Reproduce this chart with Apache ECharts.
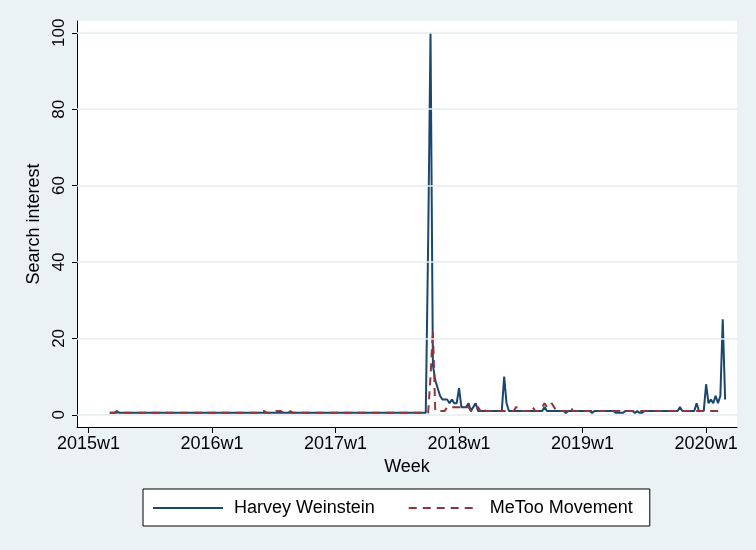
<!DOCTYPE html>
<html>
<head>
<meta charset="utf-8">
<script src="https://cdn.jsdelivr.net/npm/echarts@6/dist/echarts.min.js"></script>
<style>
  html, body { margin: 0; padding: 0; background: #eaf2f3; }
  #chart { width: 756px; height: 550px; }
</style>
</head>
<body>
<div id="chart"></div>
<script>
// weekly Google Trends series, first point is 2015w10 (week index 9, 2015w1 = 0)
const firstWeek = 9;

const harvey2015 = [
  .5, .5, .5, 1, .5, .5, .5, .5, .5, .5, .5, .5, .5,
  .5, .5, .5, .5, .5, .5, .5, .5, .5, .5, .5, .5, .5, .5, .5,
  .5, .5, .5, .5, .5, .5, .5, .5, .5, .5, .5, .5, .5, .5, .5
];
const harvey2016 = [
  .5, .5, .5, .5, .5, .5, .5, .5, .5, .5, .5, .5, .5,
  .5, .5, .5, .5, .5, .5, .5, .5, .5, .5, .5, .5, .5,
  .5, .5, .5, .5, .5, .5, .5, .5, .5, .5, .5, .5, .5,
  .5, .5, .5, .5, .5, .5, .5, .5, .5, .5, .5, .5, .5
];
const harvey2017 = [
  .5, .5, .5, .5, .5, .5, .5, .5, .5, .5, .5, .5, .5,
  .5, .5, .5, .5, .5, .5, .5, .5, .5, .5, .5, .5, .5,
  .5, .5, .5, .5, .5, .5, .5, .5, .5, .5, .5, .5, .5,
  45, 100, 13, 9, 7, 5, 4, 4, 4, 3, 4, 3, 3
];
const harvey2018 = [
  7, 2, 2, 2, 3, 1, 2, 3, 1, 1, 1, 1, 1,
  1, 1, 1, 1, 1, 1, 10, 3, 1, 1, 1, 1, 1,
  1, 1, 1, 1, 1, 1, 1, 1, 1, 1, 2, 1, 1,
  1, 1, 1, 1, 1, 1, .5, 1, 1, 1, 1, 1, 1
];
const harvey2019 = [
  1, 1, 1, 1, .5, 1, 1, 1, 1, 1, 1, 1, 1,
  1, .5, .5, .5, .5, 1, 1, 1, 1, .5, 1, .5, .5,
  1, 1, 1, 1, 1, 1, 1, 1, 1, 1, 1, 1, 1,
  1, 1, 2, 1, 1, 1, 1, 1, 1, 3, 1, 1, 1
];
const harvey2020 = [8, 3, 4, 3, 5, 3, 5, 25, 4];

const metoo2015 = [
  .5, .5, .5, .5, .5, .5, .5, .5, .5, .5, .5, .5, .5,
  .5, .5, .5, .5, .5, .5, .5, .5, .5, .5, .5, .5, .5, .5, .5,
  .5, .5, .5, .5, .5, .5, .5, .5, .5, .5, .5, .5, .5, .5, .5
];
const metoo2016 = [
  .5, .5, .5, .5, .5, .5, .5, .5, .5, .5, .5, .5, .5,
  .5, .5, .5, .5, .5, .5, .5, 1, 1, 1, .5, .5, .5,
  .5, 1, 1, 1, .5, .5, .5, 1, .5, .5, .5, .5, .5,
  .5, .5, .5, .5, .5, .5, .5, .5, .5, .5, .5, .5, .5
];
const metoo2017 = [
  .5, .5, .5, .5, .5, .5, .5, .5, .5, .5, .5, .5, .5,
  .5, .5, .5, .5, .5, .5, .5, .5, .5, .5, .5, .5, .5,
  .5, .5, .5, .5, .5, .5, .5, .5, .5, .5, .5, .5, .5,
  .5, 10, 22, 1, 1, 1, 1, 1, 2, 2, 2, 2, 2
];
const metoo2018 = [
  2, 2, 2, 2, 2, 1, 1, 2, 2, 1, 2, 1, 1,
  1, 1, 1, 1, 1, 1, 1, 1, 1, 1, 1, 2, 2,
  1, 1, 1, 1, 1, 2, 1, 1, 1, 2, 3, 2, 2,
  3, 2, 1, 1, 1, 1, 1, 1, 2, 1, 1, 1, 1
];
const metoo2019 = [
  1, 1, 1, 1, 1, 1, 1, 1, 1, 1, 1, 1, 1,
  1, 1, 1, 1, 1, 1, 1, 1, 1, 1, 1, 1, 1,
  1, 1, 1, 1, 1, 1, 1, 1, 1, 1, 1, 1, 1,
  1, 1, 1, 1, 1, 1, 1, 1, 1, 1, 1, 1, 1
];
const metoo2020 = [1, 1, 1, 1, 1, 1, 1];

const xTickValues = [0, 52, 104, 156, 208, 260];
const xTickLabels = ['2015w1', '2016w1', '2017w1', '2018w1', '2019w1', '2020w1'];
const yTickValues = [0, 20, 40, 60, 80, 100];

const harvey = [...harvey2015, ...harvey2016, ...harvey2017, ...harvey2018, ...harvey2019, ...harvey2020];
const metoo = [...metoo2015, ...metoo2016, ...metoo2017, ...metoo2018, ...metoo2019, ...metoo2020];

function toPoints(values) {
  return values.map((v, i) => [firstWeek + i, v]);
}

const navy = '#1a476f';
const maroon = '#90353b';
const font = 'Liberation Sans, Arial, Helvetica, sans-serif';

const chart = echarts.init(document.getElementById('chart'));

const options = {
  backgroundColor: '#eaf2f3',
  animation: false,
  textStyle: { fontFamily: font },
  grid: {
    left: 77, right: 19, top: 21, bottom: 123,
    show: true, backgroundColor: '#ffffff', borderWidth: 0
  },
  xAxis: {
    type: 'value',
    min: -4.8,
    max: 273,
    name: 'Week',
    nameLocation: 'middle',
    nameGap: 31,
    nameTextStyle: { fontSize: 18, color: '#000' },
    axisLine: { show: true, onZero: false, lineStyle: { color: '#000', width: 1 } },
    axisTick: { show: true, length: 6, customValues: xTickValues, lineStyle: { color: '#000' } },
    axisLabel: {
      customValues: xTickValues,
      formatter: (v) => xTickLabels[xTickValues.indexOf(v)],
      fontSize: 18, color: '#000', margin: 8
    },
    splitLine: { show: false }
  },
  yAxis: {
    type: 'value',
    min: -3.2,
    max: 103.1,
    name: 'Search interest',
    nameLocation: 'middle',
    nameGap: 32,
    nameTextStyle: { fontSize: 18, color: '#000' },
    axisLine: { show: true, onZero: false, lineStyle: { color: '#000', width: 1 } },
    axisTick: { show: true, length: 5, customValues: yTickValues, lineStyle: { color: '#000' } },
    axisLabel: {
      customValues: yTickValues,
      rotate: 90,
      fontSize: 17, color: '#000', margin: 9
    },
    splitLine: { show: false }
  },
  legend: {
    left: 143,
    top: 489,
    backgroundColor: '#ffffff',
    borderColor: '#000',
    borderWidth: 1,
    borderRadius: 0,
    padding: [10, 17, 9, 9],
    itemWidth: 70,
    itemHeight: 14,
    itemGap: 33,
    itemStyle: { opacity: 0 },
    textStyle: { fontSize: 18, color: '#000', padding: [0, 0, 0, 6] },
    data: ['Harvey Weinstein', 'MeToo Movement']
  },
  series: [
    {
      // light horizontal grid lines
      type: 'line',
      data: [],
      silent: true,
      z: 1,
      markLine: {
        silent: true,
        symbol: 'none',
        label: { show: false },
        lineStyle: { color: '#e4ecee', width: 1.5, type: 'solid' },
        data: yTickValues.map((v) => ({ yAxis: v }))
      }
    },
    {
      name: 'Harvey Weinstein',
      type: 'line',
      data: toPoints(harvey),
      symbol: 'none',
      z: 3,
      lineStyle: { color: navy, width: 2 },
      itemStyle: { color: navy }
    },
    {
      name: 'MeToo Movement',
      type: 'line',
      data: toPoints(metoo),
      symbol: 'none',
      z: 4,
      lineStyle: { color: maroon, width: 2, type: [8, 6] },
      itemStyle: { color: maroon }
    }
  ]
};

chart.setOption(options);
</script>
</body>
</html>
